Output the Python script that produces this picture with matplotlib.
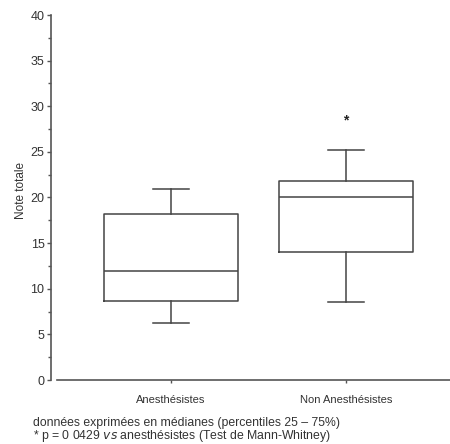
import matplotlib
matplotlib.use("Agg")
import matplotlib.pyplot as plt
from matplotlib.ticker import MultipleLocator

# data
groups = ["Anesthésistes", "Non Anesthésistes"]
whislo = [6.2, 8.6]
q1 = [8.7, 14.0]
med = [12.0, 20.0]
q3 = [18.2, 21.8]
whishi = [20.9, 25.2]
star_y = 28.4

plt.rcParams["font.family"] = ["Liberation Sans", "DejaVu Sans"]

fig = plt.figure(figsize=(4.5, 4.44), dpi=100)
ax = fig.add_axes([57 / 450, 64 / 444, 393 / 450, 365 / 444])

stats = []
for i, g in enumerate(groups):
    stats.append(dict(label=g, whislo=whislo[i], q1=q1[i], med=med[i],
                      q3=q3[i], whishi=whishi[i], fliers=[]))

line_col = "#444444"
lp = dict(color=line_col, linewidth=1.1)
ax.bxp(stats, positions=[1, 2], widths=0.766, capwidths=0.21,
       showfliers=False, boxprops=lp, whiskerprops=lp, capprops=lp,
       medianprops=lp)

ax.text(2, star_y, "*", ha="center", va="center", fontsize=10,
        fontweight="bold", color="#222222")

ax.set_xlim(0.349, 2.594)
ax.set_ylim(0, 40)
ax.yaxis.set_major_locator(MultipleLocator(5))
ax.yaxis.set_minor_locator(MultipleLocator(2.5))

for s in ["top", "right"]:
    ax.spines[s].set_visible(False)
ax.spines["left"].set_position(("outward", 4))
ax.spines["left"].set_color("#555555")
ax.spines["bottom"].set_color("#555555")
ax.spines["left"].set_linewidth(1.2)
ax.spines["bottom"].set_linewidth(1.2)

ax.tick_params(axis="y", which="major", length=3, width=1, color="#555555",
               labelsize=9, labelcolor="#333333", pad=2)
ax.tick_params(axis="y", which="minor", length=2, width=1, color="#555555")
ax.tick_params(axis="x", length=2, width=1, color="#555555",
               labelsize=8, labelcolor="#333333", pad=9)
ax.set_xticks([1, 2])
ax.set_xticklabels(groups)

# y label placed by hand, as in the reference
fig.text(21 / 450, 1 - 190 / 444, "Note totale", rotation=90, ha="center",
         va="center", fontsize=8.5, color="#333333")

fig.text(33 / 450, 1 - 423 / 444, "données exprimées en médianes (percentiles 25 – 75%)",
         fontsize=8.8, color="#333333", va="center")
fig.text(33 / 450, 1 - 436 / 444, "* p = 0 0429 $\\it{vs}$ anesthésistes (Test de Mann-Whitney)",
         fontsize=8.8, color="#333333", va="center")

fig.savefig("out.png", dpi=100)
